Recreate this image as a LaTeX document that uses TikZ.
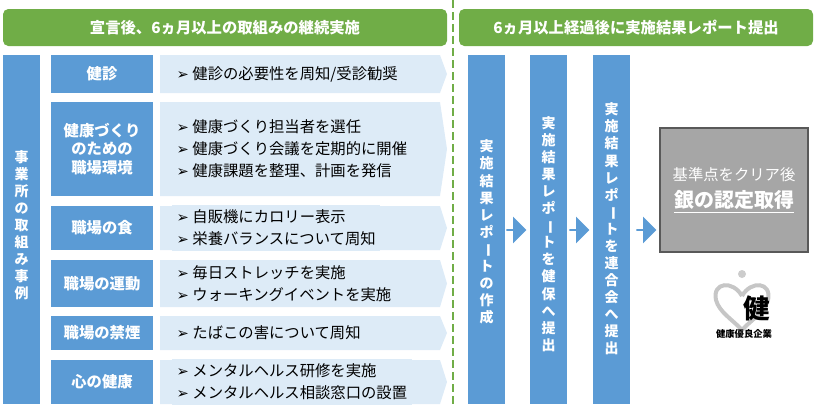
\documentclass[tikz,border=0pt]{standalone}
\usepackage{fontspec}
\setmainfont{Noto Sans CJK JP}
\newfontfamily\symfont{DejaVu Sans}
\usepackage{graphicx}
\usetikzlibrary{shapes,shapes.arrows,positioning}
\definecolor{hdgreen}{HTML}{70AD47}
\definecolor{catblue}{HTML}{5B9BD5}
\definecolor{itemblue}{HTML}{DDEBF7}
\definecolor{silver}{HTML}{A6A6A6}
\newcommand{\vbarch}{\rotatebox[origin=c]{-90}{ー}}
\newcommand{\pt}{{\symfont\fontsize{11}{11}\selectfont ➢}\ }
\tikzset{
 header/.style={fill=hdgreen,rounded corners=4pt,text=white,font=\bfseries\fontsize{11.5}{13}\selectfont},
 cat/.style={fill=catblue,text=white,font=\bfseries\fontsize{11.5}{14}\selectfont,align=center},
 item/.style={fill=itemblue,font=\fontsize{11.5}{16.5}\selectfont},
 column/.style={fill=catblue,text=white,font=\bfseries\fontsize{10.5}{12.8}\selectfont,align=center},
 flowarrow/.style={fill=catblue,single arrow,single arrow head extend=3pt,minimum height=15pt,minimum width=20pt,inner sep=0pt},
}
\newcommand{\itembox}[4]{% name, top, bottom, text
 \fill[itemblue] (160,#2) -- (440,#2) -- (447,{(#2+#3)/2}) -- (440,#3) -- (160,#3) -- cycle;
 \node[item,anchor=west,align=left] (#1) at (172,{(#2+#3)/2}) {#4};}
\begin{document}
\begin{tikzpicture}[x=0.75pt,y=-0.75pt]
\useasboundingbox (0,0) rectangle (816,404);
% headers
\node[header,minimum width=444*0.75pt,minimum height=37*0.75pt] (hleft) at (225,27.5) {宣言後、6ヵ月以上の取組みの継続実施};
\node[header,minimum width=354*0.75pt,minimum height=37*0.75pt] (hright) at (636,27.5) {6ヵ月以上経過後に実施結果レポート提出};
\draw[hdgreen,line width=2pt,dash pattern=on 6pt off 3pt] (453,0) -- (453,404);
% left bar
\fill[catblue] (3,55) rectangle (40,404);
\node[column] (jirei) at (21.5,225) {事\\業\\所\\の\\取\\組\\み\\事\\例};
% categories
\fill[catblue] (51,55) rectangle (153,93);   \node[cat] (kenshin) at (102,74) {健診};
\fill[catblue] (51,102) rectangle (153,196); \node[cat] (kankyo) at (102,149) {健康づくり\\のための\\職場環境};
\fill[catblue] (51,206) rectangle (153,250); \node[cat] (shoku) at (102,228) {職場の食};
\fill[catblue] (51,260) rectangle (153,307); \node[cat] (undo) at (102,283.5) {職場の運動};
\fill[catblue] (51,316) rectangle (153,350); \node[cat] (kinen) at (102,333) {職場の禁煙};
\fill[catblue] (51,360) rectangle (153,404); \node[cat] (kokoro) at (102,382) {心の健康};
% items
\itembox{i1}{55}{93}{\pt 健診の必要性を周知/受診勧奨}
\itembox{i2}{102}{196}{\pt 健康づくり担当者を選任\\\pt 健康づくり会議を定期的に開催\\\pt 健康課題を整理、計画を発信}
\itembox{i3}{206}{250}{\pt 自販機にカロリー表示\\\pt 栄養バランスについて周知}
\itembox{i4}{260}{307}{\pt 毎日ストレッチを実施\\\pt ウォーキングイベントを実施}
\itembox{i5}{316}{350}{\pt たばこの害について周知}
\itembox{i6}{360}{404}{\pt メンタルヘルス研修を実施\\\pt メンタルヘルス相談窓口の設置}
% report columns
\fill[catblue] (468,55) rectangle (505,404);
\node[column] (sakusei) at (486.5,232) {実\\施\\結\\果\\レ\\ポ\\\vbarch\\ト\\の\\作\\成};
\fill[catblue] (530,55) rectangle (567,404);
\node[column] (kenpo) at (548.5,234) {実\\施\\結\\果\\レ\\ポ\\\vbarch\\ト\\を\\健\\保\\へ\\提\\出};
\fill[catblue] (593,55) rectangle (630,404);
\node[column] (rengo) at (611.5,229) {実\\施\\結\\果\\レ\\ポ\\\vbarch\\ト\\を\\連\\合\\会\\へ\\提\\出};
\node[flowarrow] (a1) at (516,230) {};
\node[flowarrow] (a2) at (579,230) {};
\node[flowarrow] (a3) at (646,230) {};
% result
\node[fill=silver,draw=gray!70!black,line width=0.8pt,minimum width=148*0.75pt,minimum height=124*0.75pt,align=center,text=white] (gin) at (734,190)
 {{\fontsize{11.5}{13}\selectfont 基準点をクリア後}\\[6pt]{\bfseries\fontsize{15}{17}\selectfont\underline{銀の認定取得}}};
% logo
\fill[gray!40] (742,274) circle (4);
\draw[gray!45,line width=3pt] (742,296) .. controls (733,280) and (712,282) .. (716,300) .. controls (719,312) and (733,320) .. (742,330) .. controls (751,320) and (765,312) .. (768,300) .. controls (772,282) and (751,280) .. (742,296);
\node[font=\bfseries\fontsize{20}{20}\selectfont] (ken) at (757,308) {健};
\node[font=\bfseries\fontsize{7}{8}\selectfont] (yuryo) at (744,334) {健康優良企業};
\end{tikzpicture}
\end{document}
